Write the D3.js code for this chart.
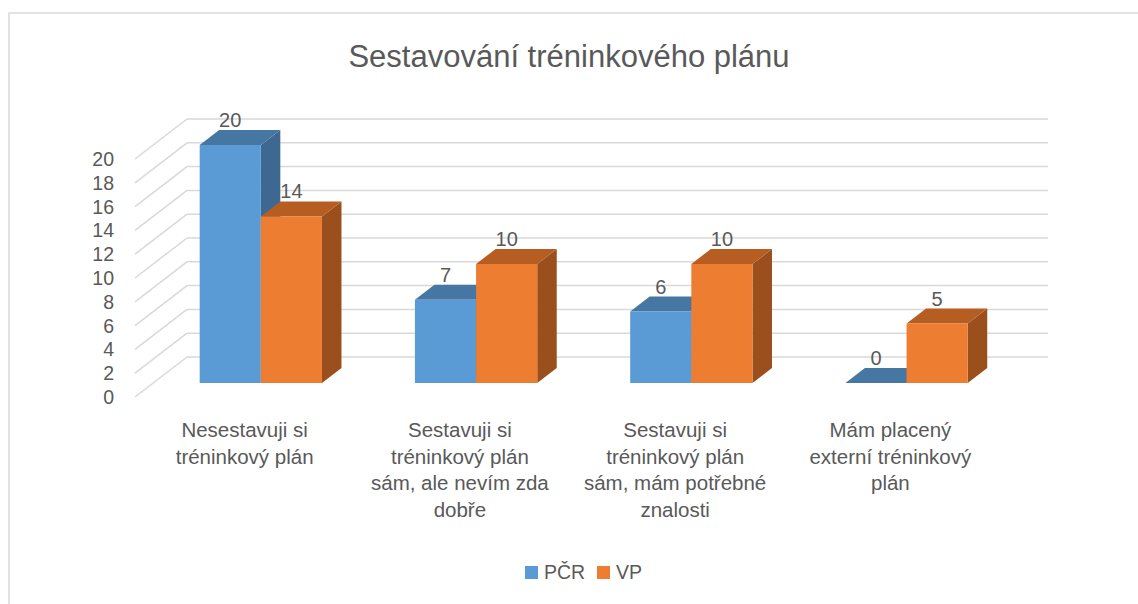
<!DOCTYPE html>
<html lang="cs">
<head>
<meta charset="UTF-8">
<title>Sestavování tréninkového plánu</title>
<script src="https://cdn.jsdelivr.net/npm/d3@7"></script>
<style>
    body{ margin:0; background:#fff; }
    text{ font-family: "Liberation Sans", Arial, sans-serif; fill:#595959; }
</style>
</head>
<body>
<div class="container"></div>
<script>
    // data
    const categories = [
        ["Nesestavuji si", "tréninkový plán"],
        ["Sestavuji si", "tréninkový plán", "sám, ale nevím zda", "dobře"],
        ["Sestavuji si", "tréninkový plán", "sám, mám potřebné", "znalosti"],
        ["Mám placený", "externí tréninkový", "plán"]
    ];
    const seriesNames = ["PČR", "VP"];
    const pcr = [20, 7, 6, 0];
    const vp = [14, 10, 10, 5];
    const yTicks = [0, 2, 4, 6, 8, 10, 12, 14, 16, 18, 20];

    const width = 1138, height = 604;
    const colors = {
        "PČR": {front:"#5b9bd5", top:"#4677a3", side:"#3c6892"},
        "VP":  {front:"#ed7d31", top:"#b65d22", side:"#9a4f1d"}
    };

    const svg = d3.select(".container").append("svg")
        .attr("width", width).attr("height", height);

    // chart frame
    svg.append("rect")
        .attr("x", 9).attr("y", 13)
        .attr("width", width + 20).attr("height", height + 20)
        .attr("fill", "none").attr("stroke", "#d9d9d9").attr("stroke-width", 1.5);

    // title
    svg.append("text")
        .attr("x", 569).attr("y", 67)
        .attr("text-anchor", "middle")
        .attr("font-size", "31px")
        .text("Sestavování tréninkového plánu");

    // 3D helpers: front plane scales + depth vector
    const depth = {dx: 52, dy: -40};
    const catKeys = categories.map((d, i) => i);
    const x = d3.scaleBand().domain(catKeys).range([135, 996]);
    const xs = d3.scaleBand().domain(seriesNames).range([0, x.bandwidth()])
        .paddingInner(0).paddingOuter(0.76);
    const y = d3.scaleLinear().domain([0, 20]).range([397, 159]);
    const proj = (px, v, z) => [px + z * depth.dx, y(v) + z * depth.dy];
    const x0 = x.range()[0], x1 = x.range()[1];

    // gridlines: back wall + left wall
    const grid = svg.append("g").attr("stroke", "#d9d9d9").attr("stroke-width", 1.5).attr("fill", "none");
    grid.selectAll(".back").data(yTicks).join("line")
        .attr("x1", d => proj(x0, d, 1)[0]).attr("y1", d => proj(x0, d, 1)[1])
        .attr("x2", d => proj(x1, d, 1)[0]).attr("y2", d => proj(x1, d, 1)[1]);
    grid.selectAll(".side").data(yTicks).join("line")
        .attr("x1", d => proj(x0, d, 0)[0]).attr("y1", d => proj(x0, d, 0)[1])
        .attr("x2", d => proj(x0, d, 1)[0]).attr("y2", d => proj(x0, d, 1)[1]);

    // y tick labels
    svg.append("g").selectAll("text").data(yTicks).join("text")
        .attr("x", 114).attr("y", d => y(d) + 7)
        .attr("text-anchor", "end")
        .attr("font-size", "19.5px")
        .text(d => d);

    // bars
    const z0 = 0.35, z1 = 0.725;
    const bars = [];
    catKeys.forEach(i => {
        bars.push({cat: i, s: "PČR", v: pcr[i]});
        bars.push({cat: i, s: "VP", v: vp[i]});
    });
    const poly = pts => "M" + pts.map(p => p.join(",")).join("L") + "Z";

    const barG = svg.append("g").selectAll("g").data(bars).join("g");
    barG.each(function(d) {
        const g = d3.select(this);
        const l = x(d.cat) + xs(d.s), r = l + xs.bandwidth();
        const c = colors[d.s];
        if (d.v > 0) {
            g.append("path").attr("fill", c.side)
                .attr("d", poly([proj(r, 0, z0), proj(r, 0, z1), proj(r, d.v, z1), proj(r, d.v, z0)]));
        }
        g.append("path").attr("fill", c.top)
            .attr("d", poly([proj(l, d.v, z0), proj(r, d.v, z0), proj(r, d.v, z1), proj(l, d.v, z1)]));
        if (d.v > 0) {
            g.append("path").attr("fill", c.front)
                .attr("d", poly([proj(l, 0, z0), proj(r, 0, z0), proj(r, d.v, z0), proj(l, d.v, z0)]));
        }
    });

    // data labels
    svg.append("g").selectAll("text").data(bars).join("text")
        .attr("x", d => proj(x(d.cat) + xs(d.s) + xs.bandwidth() / 2, d.v, z0)[0])
        .attr("y", d => proj(0, d.v, z1)[1] - 3)
        .attr("text-anchor", "middle")
        .attr("font-size", "20px")
        .attr("fill", "#404040")
        .text(d => d.v);

    // category labels
    const catLabels = svg.append("g").selectAll("text").data(catKeys).join("text")
        .attr("text-anchor", "middle")
        .attr("font-size", "20.5px")
        .attr("transform", d => `translate(${x(d) + x.bandwidth() / 2 + 2},437)`);
    catLabels.selectAll("tspan").data(d => categories[d]).join("tspan")
        .attr("x", 0).attr("y", (d, i) => i * 26.7)
        .text(d => d);

    // legend
    const legend = svg.append("g").selectAll("g").data(seriesNames).join("g")
        .attr("transform", (d, i) => `translate(${[525, 597][i]},566)`);
    legend.append("rect").attr("width", 13).attr("height", 13)
        .attr("fill", d => colors[d].front);
    legend.append("text").attr("x", 19).attr("y", 13)
        .attr("font-size", "19.5px")
        .text(d => d);
</script>
</body>
</html>
